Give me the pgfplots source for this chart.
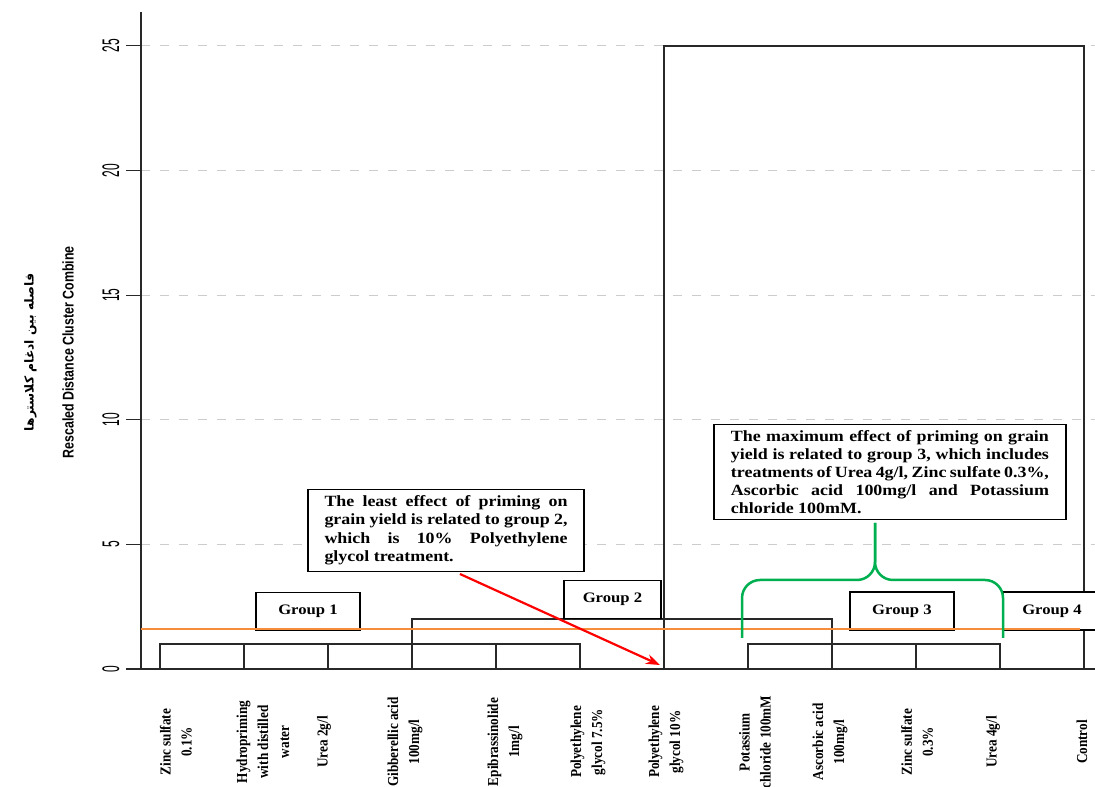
\documentclass[border=0pt]{standalone}
\usepackage{fontspec}
\setmainfont{Liberation Serif}
\newfontfamily\narrowsans[FakeStretch=0.8]{Liberation Sans}
\newfontfamily\ticksans[FakeStretch=0.5]{Liberation Sans}
\newfontfamily\narrowserif[FakeStretch=0.87]{Liberation Serif}
\newfontfamily\wideserif[FakeStretch=1.15]{Liberation Serif}
\newfontfamily\arabicfont[Script=Arabic]{DejaVu Sans}
\TeXXeTstate=1
\usepackage{pgfplots}
\pgfplotsset{compat=1.18}
\usetikzlibrary{arrows.meta}
\definecolor{dend}{RGB}{40,40,40}
\definecolor{bracegreen}{RGB}{0,176,80}
\definecolor{cutorange}{RGB}{247,140,60}
\begin{document}
\begin{tikzpicture}
\useasboundingbox (-141pt,-118pt) rectangle (954pt,669pt);
\begin{axis}[
  at={(0pt,0pt)}, anchor=south west,
  scale only axis, width=954pt, height=657pt,
  xmin=0.774, xmax=12.131, ymin=0, ymax=26.36,
  axis x line*=bottom, axis y line*=left,
  axis line style={dend, line width=1.8pt, -},
  clip=false,
  /pgf/number format/assume math mode=true,
  xtick={1.190,2.226,2.952,3.917,5.107,6.095,7.024,8.083,8.976,10.012,10.917,11.976},
  xticklabels={{Zinc sulfate\\0.1\%},{Hydropriming\\with distilled\\water},{Urea 2g/l},{Gibberellic acid\\100mg/l},{Epibrassinolide\\1mg/l},{Polyethylene\\glycol 7.5\%},{Polyethylene\\glycol 10\%},{Potassium\\chloride 100mM},{Ascorbic acid\\100mg/l},{Zinc sulfate\\0.3\%},{Urea 4g/l},{Control}},
  xtick style={draw=none},
  xticklabel style={yshift=-58pt, rotate=90, anchor=center, align=center, font=\narrowserif\bfseries\fontsize{15.2}{21}\selectfont},
  ytick={0,5,10,15,20,25},
  ytick style={dend, line width=1.2pt},
  tick align=outside, major tick length=15pt,
  yticklabel style={xshift=-3pt, rotate=90, anchor=south, font=\ticksans\fontsize{24}{24}\selectfont},
  ymajorgrids,
  grid style={gray!40, line width=0.8pt, dash pattern=on 9pt off 10pt},
  ylabel={\mbox{\arabicfont\bfseries\fontsize{12.3}{12.3}\selectfont\beginR فاصله بین ادغام کلاسترها\endR}\\{\narrowsans\bfseries Rescaled Distance Cluster Combine}},
  ylabel style={at={(axis description cs:-0.0965,0.482)}, anchor=center, align=center, font=\fontsize{15.5}{40}\selectfont},
]
% dendrogram
\addplot[dend, line width=2pt, mark=none] coordinates {(1,0) (1,1) (6,1) (6,0)};
\addplot[dend, line width=2pt, mark=none] coordinates {(2,0) (2,1)};
\addplot[dend, line width=2pt, mark=none] coordinates {(3,0) (3,1)};
\addplot[dend, line width=2pt, mark=none] coordinates {(4,0) (4,1)};
\addplot[dend, line width=2pt, mark=none] coordinates {(5,0) (5,1)};
\addplot[dend, line width=2pt, mark=none] coordinates {(8,0) (8,1) (11,1) (11,0)};
\addplot[dend, line width=2pt, mark=none] coordinates {(9,0) (9,1)};
\addplot[dend, line width=2pt, mark=none] coordinates {(10,0) (10,1)};
\addplot[dend, line width=2pt, mark=none] coordinates {(4,1) (4,2) (9,2) (9,1)};
\addplot[dend, line width=2pt, mark=none] coordinates {(7,0) (7,25) (12,25) (12,0)};
% group boxes
\tikzset{grp/.style={draw=black, line width=1.4pt, fill=white, minimum height=38pt, inner sep=0pt, font=\wideserif\bfseries\fontsize{14.5}{14.5}\selectfont}}
\node[grp, minimum width=104pt] at (axis cs:2.762,2.307) {Group 1};
\node[grp, minimum width=97pt] at (axis cs:6.387,2.789) {Group 2};
\node[grp, minimum width=104pt] at (axis cs:9.833,2.327) {Group 3};
\node[grp, minimum width=98pt] at (axis cs:11.619,2.327) {Group 4};
% cut line
\addplot[cutorange, line width=1.3pt, mark=none] coordinates {(0.774,1.6) (11.952,1.6)};
% text boxes
\node[draw=black, line width=1.4pt, fill=white, text width=243pt, inner xsep=16.5pt, inner ysep=6pt, align=justify, font=\wideserif\bfseries\fontsize{15.6}{18.5}\selectfont] at (axis cs:4.405,5.558)
 {The least effect of priming on\linebreak grain yield is related to group 2,\linebreak which is 10\% Polyethylene\linebreak glycol treatment.};
\node[draw=black, line width=1.4pt, fill=white, text width=318pt, inner xsep=17pt, inner ysep=6pt, align=justify, font=\wideserif\bfseries\fontsize{15.6}{18}\selectfont] at (axis cs:9.690,7.905)
 {The maximum effect of priming on grain\linebreak yield is related to group 3, which includes\linebreak treatments of Urea 4g/l, Zinc sulfate 0.3\%,\linebreak Ascorbic acid 100mg/l and Potassium\linebreak chloride 100mM.};
% brace
\draw[bracegreen, line width=2.5pt, rounded corners=18pt] (axis cs:7.929,1.244) -- (axis cs:7.929,3.571) -- (axis cs:9.512,3.571) -- (axis cs:9.512,5.859);
\draw[bracegreen, line width=2.5pt, rounded corners=18pt] (axis cs:11.036,1.244) -- (axis cs:11.036,3.571) -- (axis cs:9.512,3.571) -- (axis cs:9.512,5.859);
% arrow
\draw[red, line width=2.2pt, -{Stealth[length=14pt, width=10pt]}] (axis cs:4.571,3.812) -- (axis cs:6.952,0.16);
\end{axis}
\end{tikzpicture}
\end{document}
